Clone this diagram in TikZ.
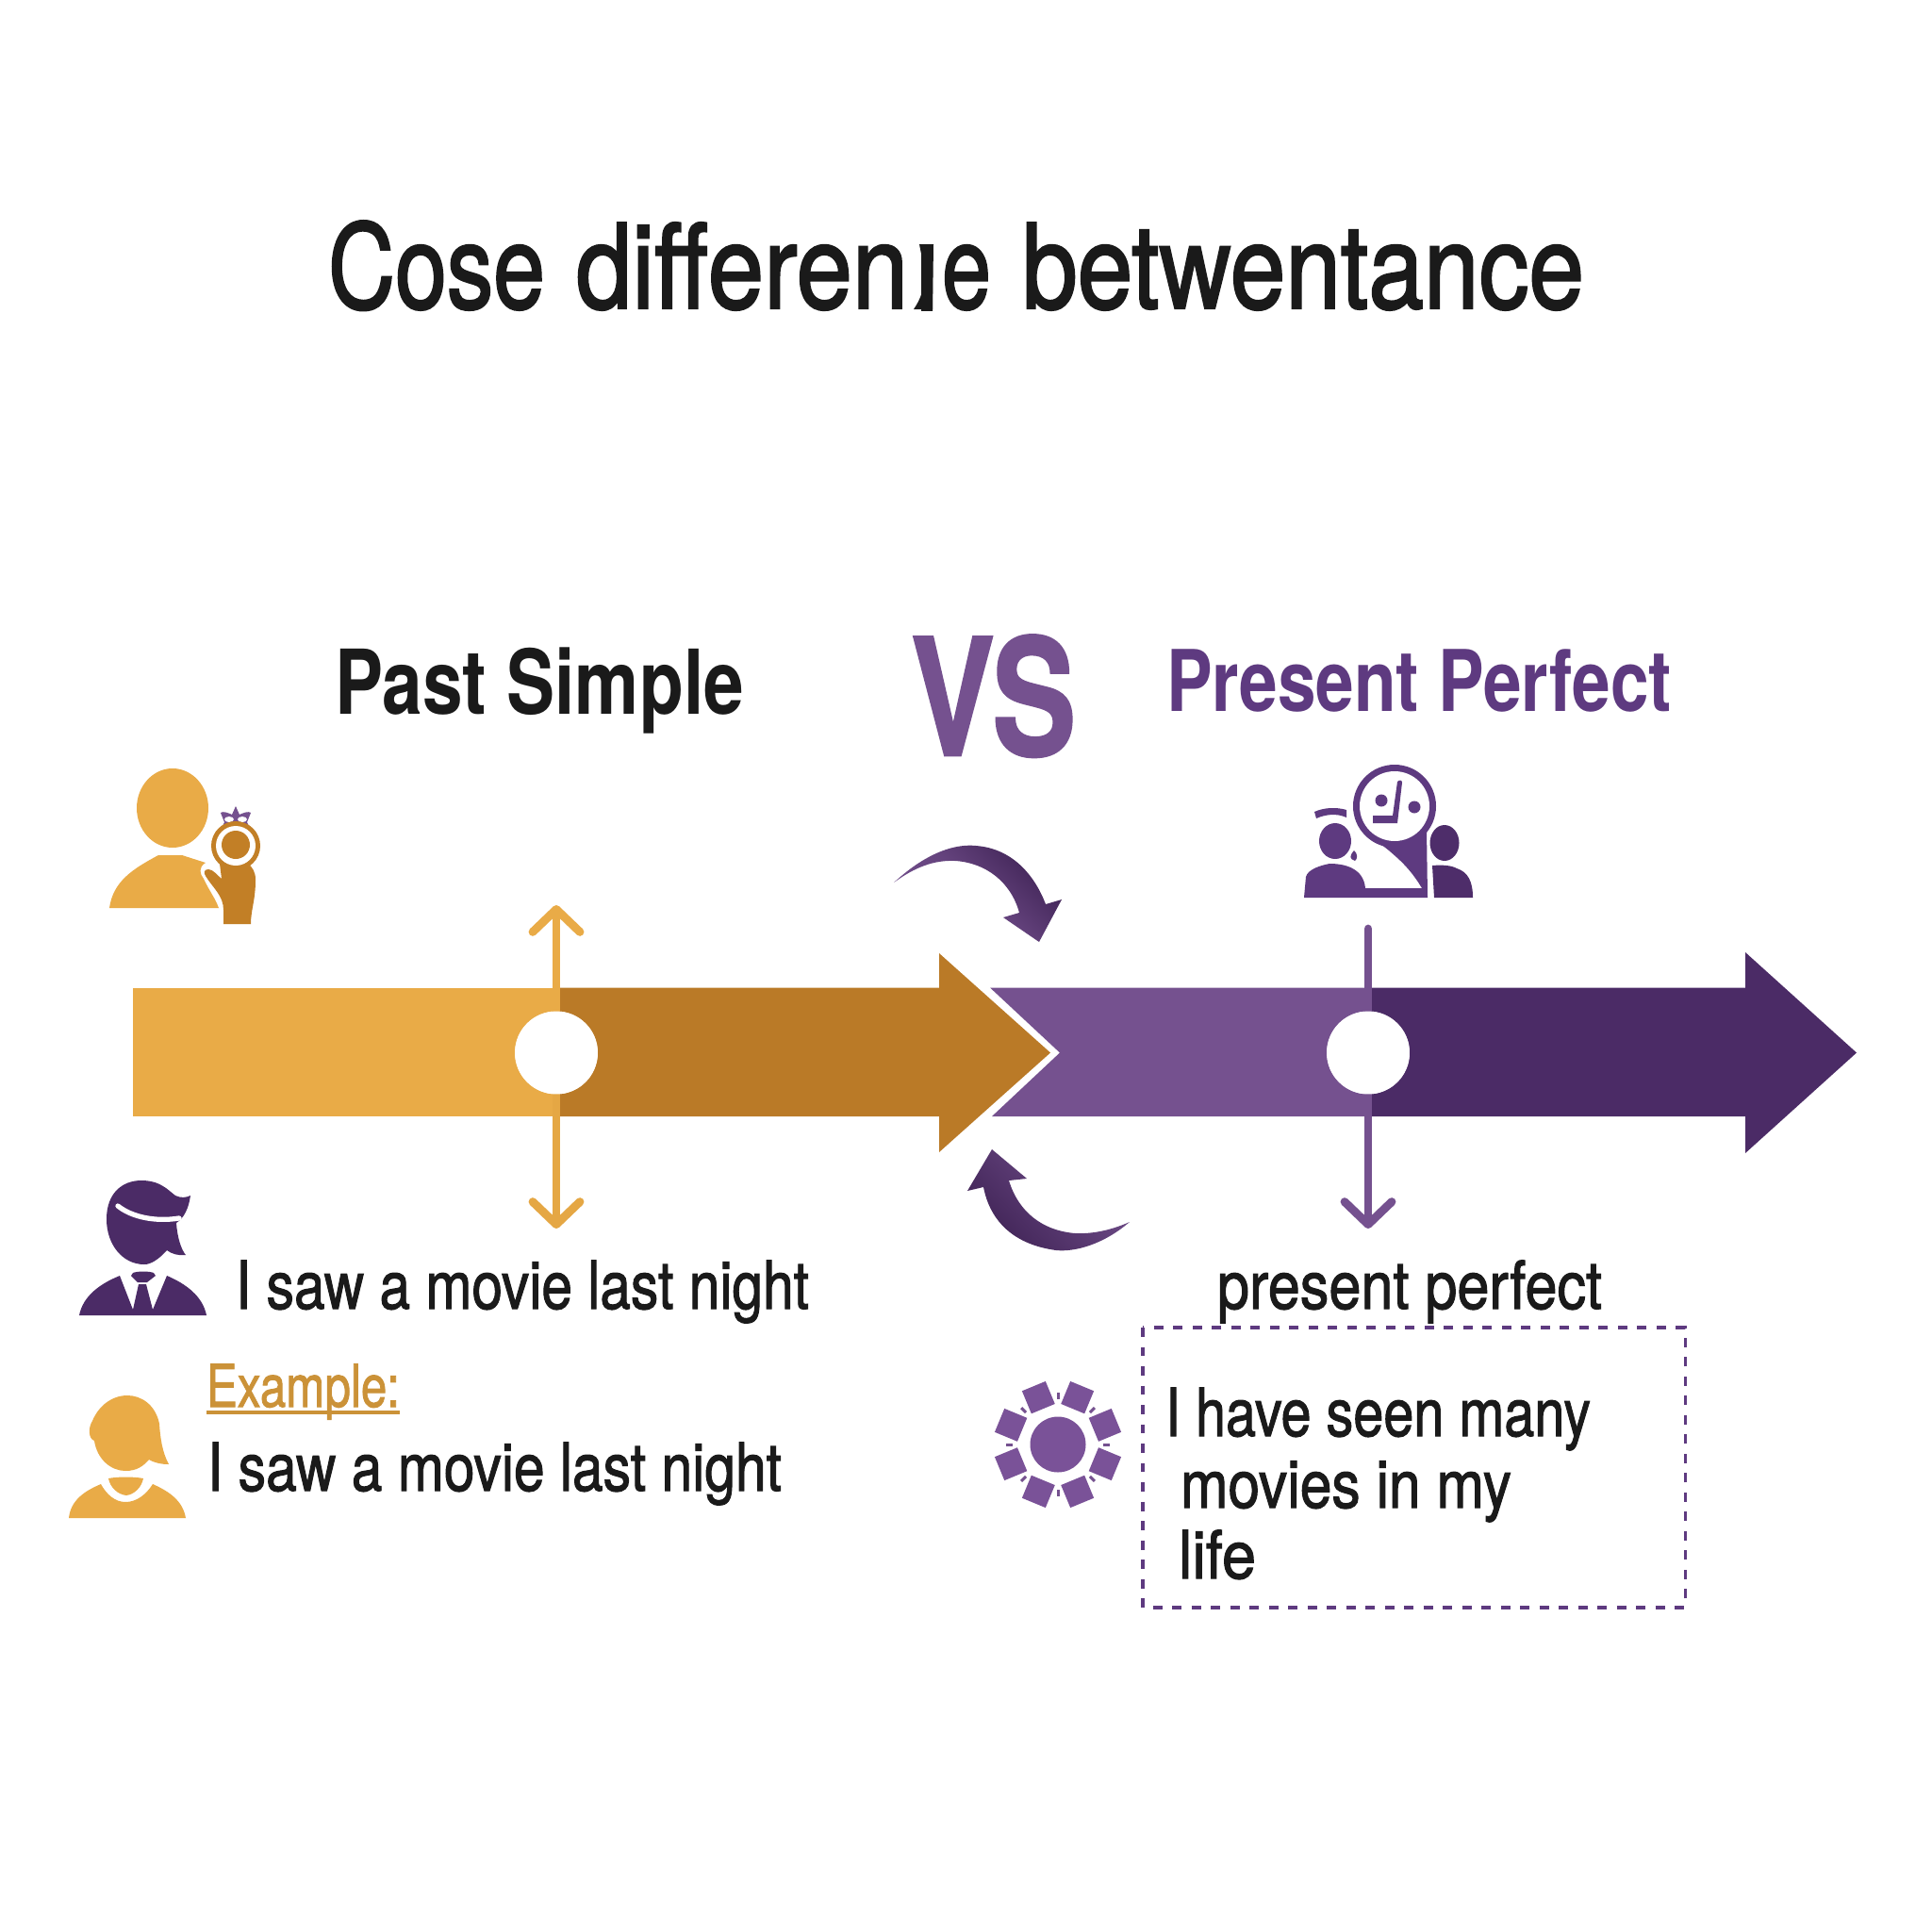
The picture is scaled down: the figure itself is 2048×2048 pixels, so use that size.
\documentclass[tikz,border=0pt]{standalone}
\usepackage{graphicx}
\usepackage{fontspec}
\setmainfont{TeX Gyre Heros}
\newfontfamily\medfont[FakeBold=1.6]{TeX Gyre Heros}
\newfontfamily\titlefont[FakeBold=2.0]{TeX Gyre Heros}
\newfontfamily\heavyfont{TeX Gyre Heros}[BoldFeatures={FakeBold=1.5}]
\usetikzlibrary{arrows.meta}
\newlength\pxu \setlength\pxu{0.85358pt}
\newcommand\fitted[3]{\resizebox{#2\pxu}{\height}{\fontsize{#1}{#1}\selectfont #3}}
\definecolor{orL}{HTML}{E9AB47}
\definecolor{orD}{HTML}{BA7A27}
\definecolor{orH}{HTML}{C27F26}
\definecolor{orT}{HTML}{CB9238}
\definecolor{puL}{HTML}{75518F}
\definecolor{puM}{HTML}{7A5298}
\definecolor{puD}{HTML}{4B2B66}
\definecolor{puX}{HTML}{3F2355}
\definecolor{puT}{HTML}{5E3A80}
\definecolor{ink}{HTML}{1A1A1A}
\tikzset{
  lbl/.style={anchor=base west,inner sep=0pt,outer sep=0pt,text=ink},
  hole/.style={circle,fill=white,draw=none,minimum size=75pt,inner sep=0pt},
  vline/.style={line width=7.5pt,line cap=round},
  barb/.style={-{Straight Barb[length=20.5pt,width=42.7pt,line width=7.5pt,round]}},
}
\begin{document}
\begin{tikzpicture}[x=0.03cm,y=-0.03cm]
\useasboundingbox (0,0) rectangle (2048,2048);
\fill[white] (0,0) rectangle (2048,2048);

% title
\node[lbl] (title) at (348,327) {\fitted{106pt}{230}{\titlefont Cose}\hspace{33\pxu}\fitted{106pt}{352}{\titlefont differen}\hspace{7\pxu}\fitted{106pt}{26}{\titlefont j}\hspace{3\pxu}\fitted{106pt}{52}{\titlefont e}\hspace{33\pxu}\fitted{106pt}{596}{\titlefont betwentance}};
\fill[white] (966,222) rectangle (996,257);
\fill[white] (950,329.5) rectangle (996,372);
\fill[ink] (975,259) -- (990,259) -- (989,328) -- (969,328) .. controls (976,318) and (981,305) .. (981,290) -- cycle;
% headers
\node[lbl] (past) at (355,757) {\fitted{81pt}{434}{\bfseries Past Simple}};
\node[lbl,text=puL] (vs) at (966,801) {\fitted{147pt}{175}{\heavyfont\bfseries VS}};
\node[lbl,text=puT] (pres) at (1237,754) {\fitted{77pt}{536}{\bfseries Present Perfect}};

% main arrows
\fill[orD] (590,1047.5) -- (996,1047.5) -- (996,1011) -- (1114,1116.5) -- (996,1222) -- (996,1184) -- (590,1184) -- cycle;
\fill[orL] (141,1047.5) rectangle (590,1184);
\fill[puD] (1451,1047.5) -- (1851,1047.5) -- (1851,1010) -- (1969,1116.5) -- (1851,1223) -- (1851,1184) -- (1451,1184) -- cycle;
\fill[puL] (1050,1047.5) -- (1451,1047.5) -- (1451,1184) -- (1052,1184) -- (1124,1116.5) -- cycle;

% connectors on arrows
\node[hole] (c1) at (590,1116.5) {};
\node[hole] (c2) at (1451,1116.5) {};
\coordinate (o1) at (590,960);
\coordinate (o2) at (590,1303);
\coordinate (p1) at (1451,985);
\coordinate (p2) at (1451,1303);
\draw[vline,orL,barb] (c1) -- (o1);
\draw[vline,orL!92!orD,barb] (c1) -- (o2);
\draw[vline,puL] (c2) -- (p1);
\draw[vline,puL,barb] (c2) -- (p2);
\node[hole] at (c1) {};
\node[hole] at (c2) {};

% curved arrows
\shade[left color=puL,right color=puX,middle color=puL!70!puX,shading angle=135]
  (948,936) .. controls (985,902) and (1015,895) .. (1035,897)
  .. controls (1075,900) and (1098,930) .. (1109,959)
  -- (1126,954) -- (1102,999) -- (1064,973) -- (1081,968)
  .. controls (1072,935) and (1045,915) .. (1013,913)
  .. controls (990,912) and (970,920) .. (948,936) -- cycle;
\shade[left color=puX,right color=puL,middle color=puX!50!puL,shading angle=135]
  (1052,1219) -- (1089,1250) -- (1070,1252)
  .. controls (1080,1285) and (1105,1305) .. (1140,1308)
  .. controls (1160,1309) and (1180,1304) .. (1198,1296)
  .. controls (1170,1320) and (1140,1328) .. (1120,1326)
  .. controls (1075,1320) and (1050,1295) .. (1043,1259)
  -- (1026,1263) -- cycle;

% person with ring (top left)
\fill[orL] (183,857) ellipse [x radius=38,y radius=42];
\fill[orL] (116,963) .. controls (120,935) and (140,922) .. (168,907) -- (193,907) -- (218,915)
  .. controls (210,920) and (212,927) .. (216,932) .. controls (222,945) and (228,952) .. (232,963) -- cycle;
\fill[orH] (237,980) -- (266,980) .. controls (266,965) and (271,955) .. (271,933)
  .. controls (271,925) and (268,920) .. (263,916) -- (233,916) -- (235,932)
  .. controls (230,928) and (226,922) .. (221,922) .. controls (216,922) and (216,926) .. (218,929)
  .. controls (226,942) and (237,950) .. (237,965) -- cycle;
\fill[puL] (250,855) -- (254,864) .. controls (258,862) and (264,860) .. (266,862) -- (262,872) -- (268,885) -- (232,885) -- (238,872) -- (234,862) .. controls (236,860) and (242,862) .. (246,864) -- cycle;
\fill[white] (243,869) ellipse [x radius=5,y radius=3];
\fill[white] (257,869) ellipse [x radius=5,y radius=3];
\fill[orH] (250,897) circle [radius=26];
\fill[white] (250,897) circle [radius=21];
\fill[orH] (250,896) circle [radius=15];

% group with clock (top right)
\fill[puT] (1383,952) -- (1385,930) .. controls (1387,922) and (1400,918) .. (1410,916)
  .. controls (1425,916) and (1446,920) .. (1448,942) -- (1508,942)
  .. controls (1495,920) and (1482,910) .. (1473,902) .. controls (1462,893) and (1455,890) .. (1445,880)
  -- (1513,880) -- (1514,952) -- cycle;
\fill[puT] (1479,855) circle [radius=44];
\fill[white] (1479,855) circle [radius=37];
\fill[puT] (1465,849) circle [radius=6.5];
\fill[puT] (1500,856) circle [radius=6.5];
\fill[puT] (1456,865) -- (1477,865) -- (1482,829) .. controls (1484,827) and (1487,827) .. (1487,830) -- (1482,873) -- (1456,873) -- cycle;
\fill[puT] (1416,892) ellipse [x radius=17,y radius=19];
\fill[puT] (1396,868) .. controls (1395,864) and (1395,864) .. (1394,861) .. controls (1405,856) and (1418,856) .. (1428,859) -- (1428,867) .. controls (1417,862) and (1405,864) .. (1396,868) -- cycle;
\fill[puT] (1436,902) .. controls (1431,908) and (1431,911) .. (1437,913) .. controls (1440,911) and (1440,905) .. (1436,902) -- cycle;
\fill[puD!85!puT] (1532,894) ellipse [x radius=15.5,y radius=19];
\fill[puD!85!puT] (1521,952) -- (1519,918) .. controls (1530,917) and (1540,918) .. (1545,921) .. controls (1557,925) and (1562,935) .. (1562,952) -- cycle;

% man icon
\fill[puD] (113,1293) .. controls (113,1265) and (130,1252) .. (150,1252)
  .. controls (170,1252) and (178,1262) .. (186,1268) .. controls (192,1271) and (198,1270) .. (202,1268)
  .. controls (200,1282) and (195,1292) .. (187,1297)
  .. controls (188,1312) and (192,1325) .. (197,1331) .. controls (190,1332) and (182,1330) .. (177,1326)
  .. controls (168,1336) and (160,1341) .. (153,1341) .. controls (130,1341) and (113,1320) .. (113,1293) -- cycle;
\draw[white,line width=4.5,line cap=round] (125,1279) .. controls (140,1291) and (165,1296) .. (190,1292);
\fill[puD] (84,1395) .. controls (88,1375) and (105,1362) .. (127,1353) -- (141,1389) -- (141,1395) -- cycle;
\fill[puD] (219,1395) .. controls (215,1375) and (198,1362) .. (177,1353) -- (162,1389) -- (162,1395) -- cycle;
\fill[puD] (141,1395) -- (141,1389) -- (147,1362) -- (155,1362) -- (162,1389) -- (162,1395) -- cycle;
\fill[puD] (141,1350) .. controls (146,1348) and (158,1348) .. (163,1350) -- (165,1353) -- (156,1360) -- (146,1360) -- (139,1353) -- cycle;

% woman icon
\fill[orL] (98,1507) .. controls (93,1515) and (94,1526) .. (100,1528)
  .. controls (103,1548) and (118,1560) .. (133,1560) .. controls (145,1560) and (152,1555) .. (158,1548)
  .. controls (165,1552) and (172,1553) .. (179,1553) .. controls (172,1540) and (170,1525) .. (169,1510)
  .. controls (165,1490) and (150,1480) .. (135,1480) .. controls (118,1480) and (104,1492) .. (98,1507) -- cycle;
\fill[orL] (73,1610) .. controls (75,1592) and (88,1582) .. (107,1574)
  .. controls (113,1585) and (122,1593) .. (133,1593) .. controls (145,1593) and (155,1585) .. (162,1574)
  .. controls (180,1582) and (194,1592) .. (197,1610) -- cycle;
\fill[orL] (115,1568) .. controls (125,1566) and (142,1566) .. (152,1568) .. controls (150,1578) and (142,1585) .. (134,1586) .. controls (125,1585) and (117,1578) .. (115,1568) -- cycle;

% left texts
\node[lbl] (s1) at (250,1388) {\fitted{60pt}{608}{\medfont I saw a movie last night}};
\node[lbl,text=orT] (ex) at (219,1492) {\fitted{53pt}{205}{\medfont Example:}};
\draw[orT,line width=4] (219,1498) -- (424,1498);
\node[lbl] (s2) at (220,1581) {\fitted{60pt}{609}{\medfont I saw a movie last night}};

% right texts
\node[lbl] (pp) at (1291,1388) {\fitted{60pt}{408}{\medfont present perfect}};
\draw[puT,line width=2.6,dash pattern=on 8.5pt off 9pt] (1212,1408) rectangle (1787,1705);
\node[lbl] (l1) at (1236,1523) {\fitted{60pt}{451}{\medfont I have seen many}};
\node[lbl] (l2) at (1252,1599) {\fitted{60pt}{351}{\medfont movies in my}};
\node[lbl] (l3) at (1250,1674) {\fitted{60pt}{82}{\medfont life}};

% gear icon
\fill[puM] (1122,1532) circle [radius=29.5];
\foreach \a in {22.5,67.5,...,360} {
  \fill[puM,shift={(1122,1532)},rotate=\a] (41,-13.5) -- (67,-13.5) -- (67,13.5) -- (41,13.5) -- cycle;
}
\foreach \a in {0,45,...,315} {
  \fill[puL,shift={(1122,1532)},rotate=\a] (48,-1.5) -- (55,-1.5) -- (55,1.5) -- (48,1.5) -- cycle;
}
\end{tikzpicture}
\end{document}
